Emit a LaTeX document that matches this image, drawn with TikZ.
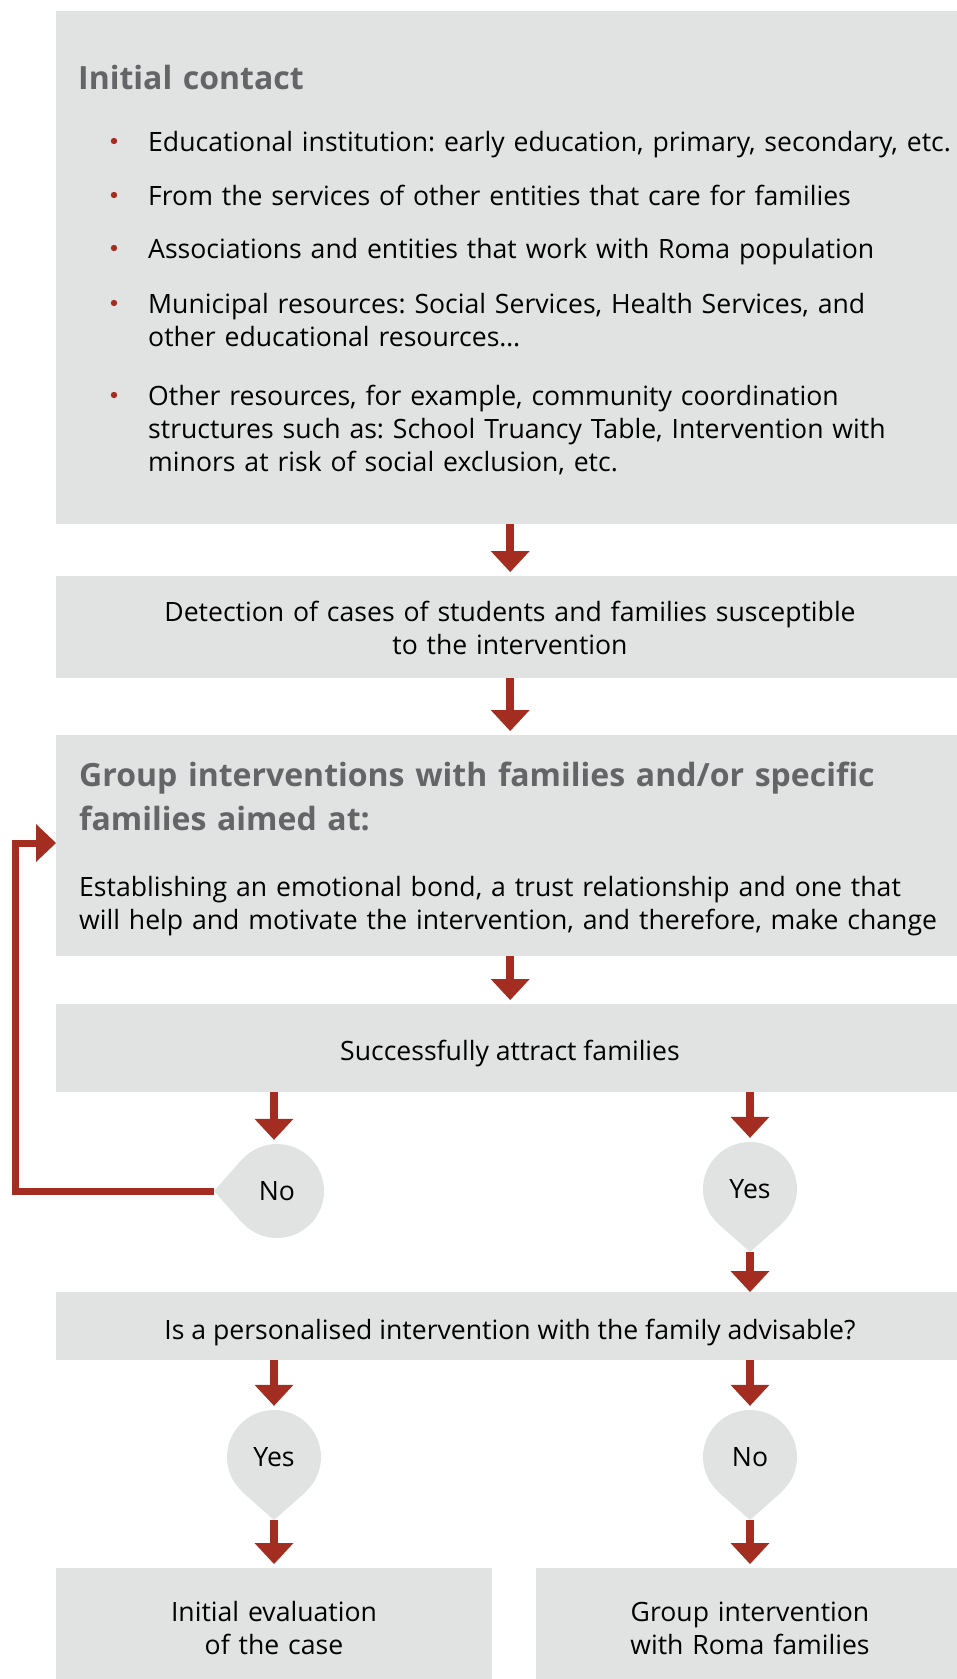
\documentclass[tikz,border=0pt]{standalone}
\usepackage{fontspec}
\setmainfont{Open Sans}
\usetikzlibrary{arrows.meta,positioning}

\definecolor{boxgray}{HTML}{E1E2E2}
\definecolor{flowred}{HTML}{A32D20}
\definecolor{headgray}{HTML}{646567}

\newcommand{\bodyfont}{\frenchspacing\fontsize{26.6}{33}\selectfont}
\newcommand{\headfont}{\bfseries\fontsize{32}{44}\selectfont}

\tikzset{
  box/.style={fill=boxgray, anchor=north west, inner sep=0pt},
  flow/.style={draw=flowred, line width=8pt, shorten >=4pt,
    -{Triangle[width=39pt,length=21pt,line width=0pt]}},
  loopflow/.style={draw=flowred, line width=7pt,
    -{Triangle[width=38pt,length=20pt,line width=0pt]}},
  drop/.style={circle, fill=boxgray, minimum size=94pt, inner sep=0pt,
    text depth=0pt, font=\bodyfont},
  headline/.style={anchor=base west, align=left, text width=880pt,
    inner sep=0pt, text=headgray, font=\headfont},
  bullettext/.style={anchor=base west, align=left, text width=805pt,
    inner sep=0pt, font=\bodyfont},
  boxtext/.style={anchor=base, align=center, inner sep=0pt, font=\bodyfont},
}

\begin{document}
\begin{tikzpicture}[x=1pt, y=-1pt]
  \useasboundingbox (0,0) rectangle (957,1679);

  % boxes
  \node[box, minimum width=908pt, minimum height=513pt] (contact) at (56,11) {};
  \node[box, minimum width=908pt, minimum height=102pt] (detect) at (56,576) {};
  \node[box, minimum width=908pt, minimum height=221pt] (group) at (56,735) {};
  \node[box, minimum width=908pt, minimum height=88pt] (attract) at (56,1004) {};
  \node[box, minimum width=908pt, minimum height=68pt] (advise) at (56,1292) {};
  \node[box, minimum width=436pt, minimum height=120pt] (evalcase) at (56,1568) {};
  \node[box, minimum width=428pt, minimum height=120pt] (romagroup) at (536,1568) {};

  % initial contact
  \node[headline] (contacthead) at (78,89) {Initial contact};
  \foreach \yb/\entry in {
      151/{Educational institution: early education, primary, secondary,~etc.},
      205/{From the services of other entities that care for families},
      258/{Associations and entities that work with Roma population},
      313/{Municipal resources: Social Services, Health Services, and\\other educational resources…},
      405/{Other resources, for example, community coordination\\structures such as: School Truancy Table, Intervention with\\minors at risk of social exclusion, etc.}}
  {
    \node[bullettext] (entry\yb) at (148,\yb) {\entry};
    \fill[flowred] (114,\yb-10) circle (3.2pt);
  }

  \node[boxtext, text width=880pt] (detecttext) at (510,621)
    {Detection of cases of students and families susceptible\\to the intervention};

  \node[headline] (grouphead) at (79,786)
    {Group interventions with families and/or specific\\families aimed at:};
  \node[bullettext, text width=863pt] (groupbody) at (79,896)
    {\makebox[\linewidth][s]{Establishing an emotional bond, a trust relationship and one that}\\
     \makebox[\linewidth][s]{will help and motivate the intervention, and therefore, make change}};

  \node[boxtext] (attracttext) at (510,1060) {Successfully attract families};
  \node[boxtext] (advisetext) at (510,1339)
    {Is a personalised intervention with the family advisable?};
  \node[boxtext, text width=420pt] (evaltext) at (274,1621)
    {Initial evaluation\\of the case};
  \node[boxtext, text width=420pt] (romatext) at (750,1621)
    {Group intervention\\with Roma families};

  % answers
  \node[drop] (no1) at (277,1191) {No};
  \node[drop] (yes1) at (750,1189) {Yes};
  \node[drop] (yes2) at (274,1457) {Yes};
  \node[drop] (no2) at (750,1457) {No};
  \foreach \d/\ang in {no1/180, yes1/270, yes2/270, no2/270}
  {
    \pgfmathtruncatemacro{\angl}{\ang-43}
    \pgfmathtruncatemacro{\angr}{\ang+43}
    \coordinate (\d tip) at ([shift={(\ang:63pt)}]\d.center);
    \fill[boxgray] (\d.\angl) -- (\d tip) -- (\d.\angr) -- cycle;
  }

  % connectors
  \draw[flow] (contact.south) -- (detect.north);
  \draw[flow] (detect.south) -- (group.north);
  \draw[flow] (group.south) -- (attract.north);
  \draw[flow] (attract.south -| yes2) -- (no1.north -| yes2);
  \draw[flow] (attract.south -| yes1) -- (yes1.north);
  \draw[flow, shorten >=0pt] (yes1tip) -- (advise.north -| yes1tip);
  \draw[flow] (advise.south -| yes2) -- (yes2.north);
  \draw[flow] (advise.south -| no2) -- (no2.north);
  \draw[flow] (yes2tip) -- (evalcase.north -| yes2tip);
  \draw[flow] (no2tip) -- (romagroup.north -| no2tip);

  \coordinate (loopturn) at (15,843);
  \draw[loopflow] (no1tip) -| (loopturn) -- (loopturn -| group.west);
\end{tikzpicture}
\end{document}
